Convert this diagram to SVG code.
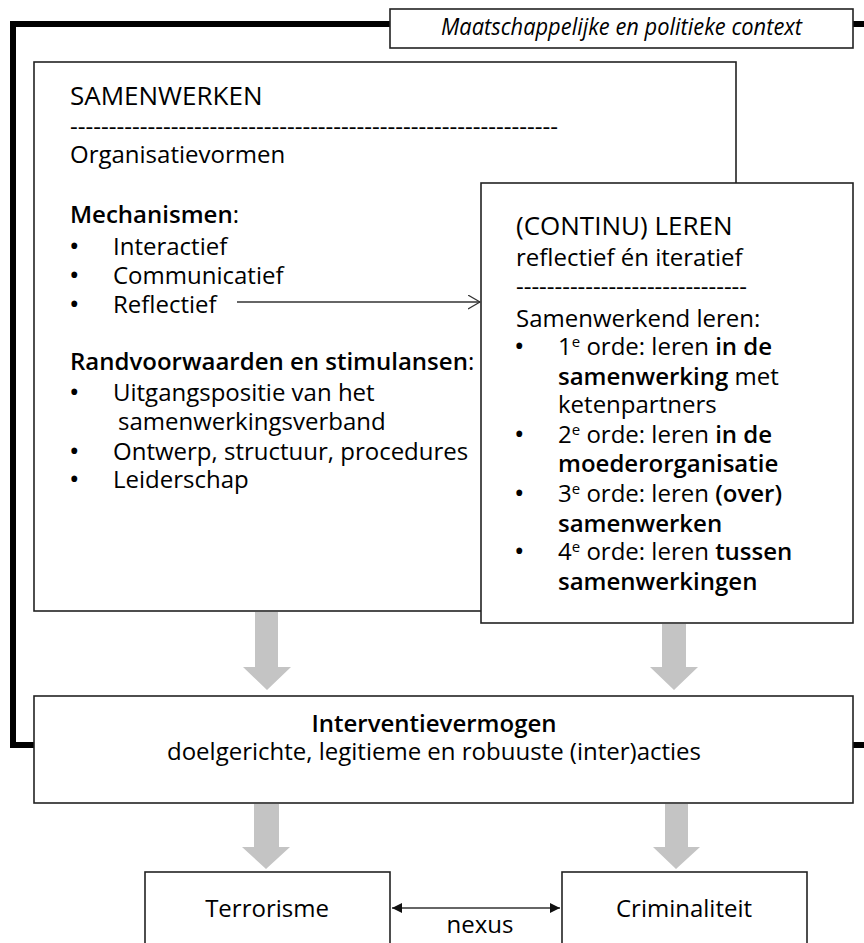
<svg xmlns="http://www.w3.org/2000/svg" width="864" height="943" viewBox="0 0 864 943">
<style>
text{font-family:"Open Sans","Noto Sans","Liberation Sans",sans-serif;fill:#000;font-size:24px}
.box{fill:#fff;stroke:#222;stroke-width:1.6}
.h{font-size:26px;font-weight:500}
.b{font-weight:600}
.sup{font-size:15px}
.bul{font-size:28px}
.garrow{fill:#c4c4c4}
.thin{stroke:#333;stroke-width:1.3;fill:none}
</style>
<defs>
<marker id="openhead" markerWidth="14" markerHeight="16" refX="12" refY="7" orient="auto" markerUnits="userSpaceOnUse">
<path d="M0,0 L12,7 L0,14" fill="none" stroke="#333" stroke-width="1.2"/>
</marker>
<marker id="solidhead" markerWidth="12" markerHeight="12" refX="10" refY="5" orient="auto-start-reverse" markerUnits="userSpaceOnUse">
<path d="M0,0 L10,5 L0,10 Z" fill="#111"/>
</marker>
</defs>

<g id="context-frame">
<path d="M864,24 H13 V745 H36" fill="none" stroke="#000" stroke-width="6"/>
<path d="M852,745 H864" fill="none" stroke="#000" stroke-width="6"/>
</g>

<g id="context-label">
<rect class="box" x="390" y="9" width="463" height="39"/>
<text x="441" y="35" font-size="20" font-style="italic" textLength="361" lengthAdjust="spacingAndGlyphs">Maatschappelijke en politieke context</text>
</g>

<g id="samenwerken">
<rect class="box" x="34" y="62" width="702" height="549"/>
<text class="h" x="70" y="105">SAMENWERKEN</text>
<text x="70" y="135" textLength="488" lengthAdjust="spacingAndGlyphs">---------------------------------------------------------------</text>
<text x="70" y="163">Organisatievormen</text>
<text x="70" y="223"><tspan class="b">Mechanismen</tspan>:</text>
<text class="bul" x="69" y="256">•</text><text x="113" y="255">Interactief</text>
<text class="bul" x="69" y="285">•</text><text x="113" y="284">Communicatief</text>
<text class="bul" x="69" y="314">•</text><text x="113" y="313">Reflectief</text>
<text x="70" y="370"><tspan class="b">Randvoorwaarden en stimulansen</tspan>:</text>
<text class="bul" x="69" y="402">•</text><text x="113" y="401">Uitgangspositie van het</text>
<text x="118" y="430">samenwerkingsverband</text>
<text class="bul" x="69" y="461">•</text><text x="113" y="460">Ontwerp, structuur, procedures</text>
<text class="bul" x="69" y="489">•</text><text x="113" y="488">Leiderschap</text>
</g>

<g id="leren">
<rect class="box" x="481" y="183" width="372" height="440"/>
<text class="h" x="516" y="235">(CONTINU) LEREN</text>
<text x="516" y="266">reflectief én iteratief</text>
<text x="516" y="295" textLength="231" lengthAdjust="spacingAndGlyphs">------------------------------</text>
<text x="516" y="327">Samenwerkend leren:</text>
<text class="bul" x="514" y="356">•</text>
<text x="558" y="355">1<tspan class="sup" dy="-8">e</tspan><tspan dy="8"> orde: leren </tspan><tspan class="b">in de</tspan></text>
<text x="558" y="385"><tspan class="b">samenwerking</tspan> met</text>
<text x="558" y="413">ketenpartners</text>
<text class="bul" x="514" y="444">•</text>
<text x="558" y="443">2<tspan class="sup" dy="-8">e</tspan><tspan dy="8"> orde: leren </tspan><tspan class="b">in de</tspan></text>
<text x="558" y="472" class="b">moederorganisatie</text>
<text class="bul" x="514" y="503">•</text>
<text x="558" y="502">3<tspan class="sup" dy="-8">e</tspan><tspan dy="8"> orde: leren </tspan><tspan class="b">(over)</tspan></text>
<text x="558" y="532" class="b">samenwerken</text>
<text class="bul" x="514" y="561">•</text>
<text x="558" y="560">4<tspan class="sup" dy="-8">e</tspan><tspan dy="8"> orde: leren </tspan><tspan class="b">tussen</tspan></text>
<text x="558" y="590" class="b">samenwerkingen</text>
</g>

<g id="interventievermogen">
<rect class="box" x="34" y="696" width="819" height="107"/>
<text x="434" y="732" text-anchor="middle" class="b">Interventievermogen</text>
<text x="434" y="760" text-anchor="middle">doelgerichte, legitieme en robuuste (inter)acties</text>
</g>

<g id="terrorisme">
<rect class="box" x="145" y="872" width="245" height="90"/>
<text x="267" y="917" text-anchor="middle">Terrorisme</text>
</g>

<g id="criminaliteit">
<rect class="box" x="562" y="872" width="245" height="90"/>
<text x="684" y="917" text-anchor="middle">Criminaliteit</text>
</g>

<g id="connectors">
<path class="thin" d="M237,302 H480" marker-end="url(#openhead)"/>
<path class="garrow" d="M255,612 H278 V667 H291 L267,690 L243,667 H255 Z"/>
<path class="garrow" d="M662,624 H686 V667 H698 L674,690 L650,667 H662 Z"/>
<path class="garrow" d="M254,804 H279 V847 H290 L266,869 L242,847 H254 Z"/>
<path class="garrow" d="M665,804 H688 V847 H700 L676,869 L653,847 H665 Z"/>
<path d="M392,908 H560" fill="none" stroke="#333" stroke-width="1.5" marker-start="url(#solidhead)" marker-end="url(#solidhead)"/>
<text x="480" y="933" text-anchor="middle" font-size="19">nexus</text>
</g>
</svg>
